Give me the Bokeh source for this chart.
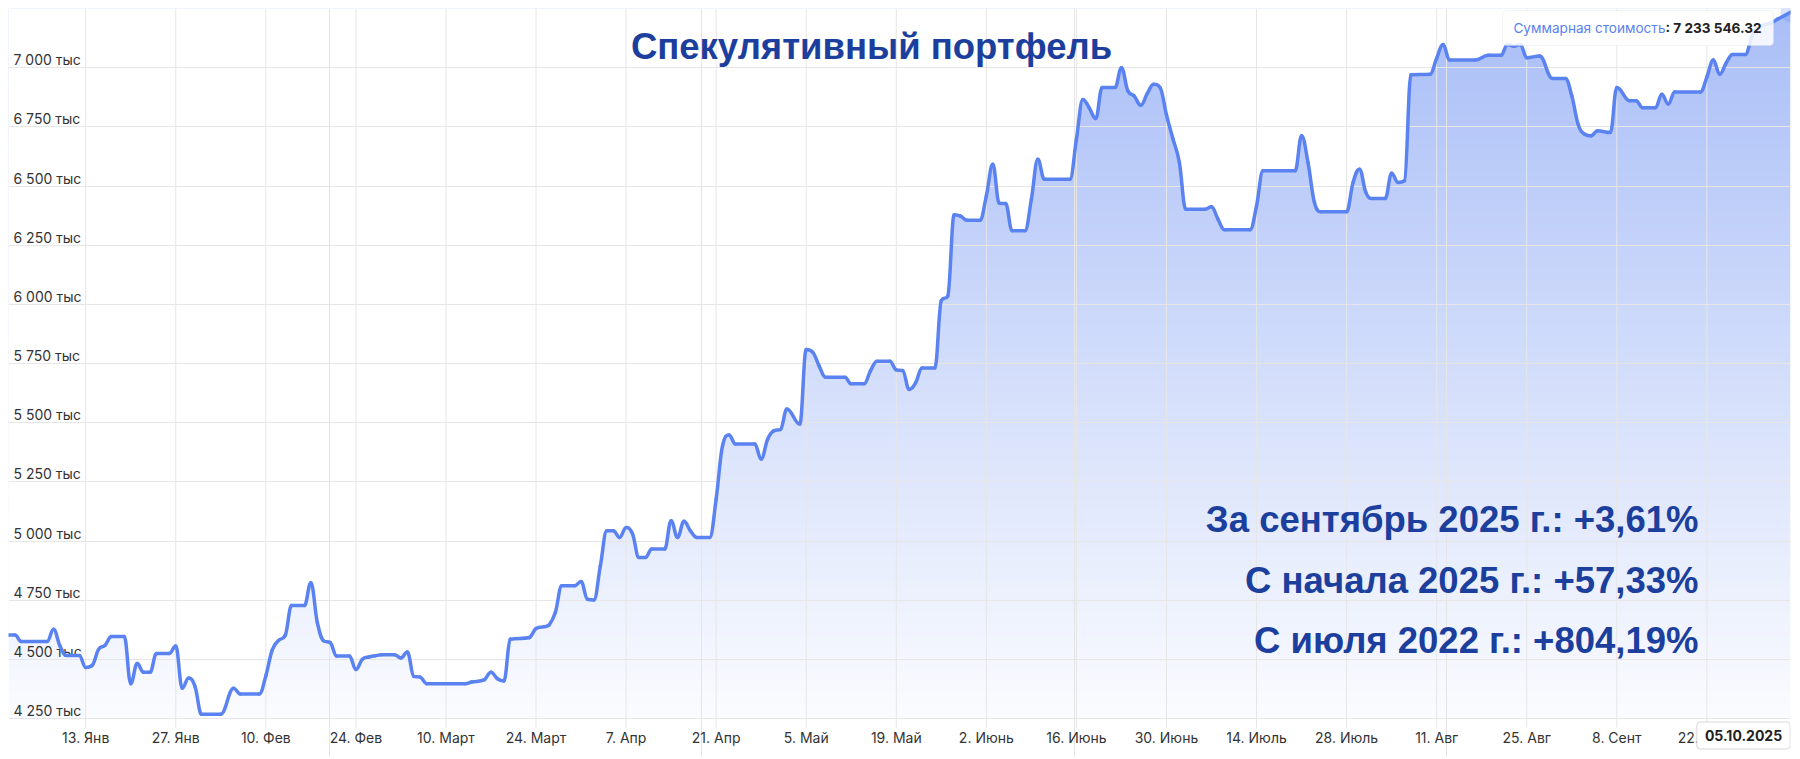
import numpy as np
import pandas as pd
from bokeh.plotting import figure
from bokeh.models import Range1d, FixedTicker, Grid, Label, BoxAnnotation
from bokeh.core.properties import value
from bokeh.embed import file_html
from bokeh.resources import INLINE

# ---------------- data ----------------
YEAR = 2025
dates = [
    "01-01", "01-02", "01-03", "01-07", "01-08", "01-09", "01-10", "01-12", "01-13", "01-14",
    "01-15", "01-16", "01-17", "01-19", "01-20", "01-21", "01-22", "01-23", "01-24", "01-26",
    "01-27", "01-28", "01-29", "01-30", "01-31", "02-03", "02-05", "02-06", "02-09", "02-10",
    "02-11", "02-12", "02-13", "02-14", "02-16", "02-17", "02-18", "02-19", "02-20", "02-21",
    "02-23", "02-24", "02-25", "02-26", "02-27", "02-28", "03-02", "03-03", "03-04", "03-05",
    "03-06", "03-07", "03-13", "03-14", "03-16", "03-17", "03-18", "03-19", "03-20", "03-23",
    "03-24", "03-26", "03-27", "03-28", "03-30", "03-31", "04-01", "04-02", "04-03", "04-04",
    "04-05", "04-06", "04-07", "04-08", "04-09", "04-10", "04-11", "04-13", "04-14", "04-15",
    "04-16", "04-17", "04-18", "04-20", "04-21", "04-22", "04-23", "04-24", "04-27", "04-28",
    "04-29", "04-30", "05-01", "05-02", "05-04", "05-05", "05-06", "05-07", "05-08", "05-11",
    "05-12", "05-14", "05-15", "05-16", "05-18", "05-19", "05-20", "05-21", "05-22", "05-23",
    "05-25", "05-26", "05-27", "05-28", "05-29", "05-30", "06-01", "06-02", "06-03", "06-04",
    "06-05", "06-06", "06-08", "06-09", "06-10", "06-11", "06-15", "06-16", "06-17", "06-18",
    "06-19", "06-20", "06-22", "06-23", "06-24", "06-25", "06-26", "06-27", "06-28", "06-29",
    "06-30", "07-01", "07-02", "07-03", "07-06", "07-07", "07-08", "07-09", "07-13", "07-14",
    "07-15", "07-20", "07-21", "07-22", "07-23", "07-24", "07-28", "07-29", "07-30", "07-31",
    "08-01", "08-03", "08-04", "08-05", "08-06", "08-07", "08-10", "08-11", "08-12", "08-13",
    "08-17", "08-19", "08-21", "08-22", "08-23", "08-24", "08-25", "08-27", "08-29", "08-31",
    "09-01", "09-02", "09-03", "09-04", "09-05", "09-07", "09-08", "09-10", "09-11", "09-12",
    "09-14", "09-15", "09-16", "09-17", "09-21", "09-22", "09-23", "09-24", "09-25", "09-26",
    "09-28", "09-29", "09-30", "10-02", "10-03", "10-05",
]
portfolio_k = [
    4603, 4603, 4575, 4575, 4627, 4556, 4516, 4516, 4466, 4474,
    4542, 4559, 4596, 4596, 4397, 4482, 4445, 4445, 4525, 4525,
    4556, 4378, 4421, 4385, 4268, 4268, 4378, 4354, 4354, 4430,
    4540, 4580, 4600, 4727, 4727, 4824, 4656, 4578, 4571, 4514,
    4514, 4457, 4500, 4510, 4515, 4519, 4519, 4506, 4531, 4428,
    4425, 4397, 4397, 4404, 4414, 4445, 4418, 4408, 4585, 4592,
    4630, 4644, 4698, 4811, 4811, 4829, 4754, 4751, 4895, 5043,
    5043, 5015, 5057, 5030, 4930, 4930, 4966, 4966, 5086, 5015,
    5083, 5043, 5015, 5015, 5177, 5403, 5448, 5410, 5410, 5346,
    5430, 5466, 5471, 5558, 5494, 5809, 5798, 5740, 5692, 5692,
    5664, 5664, 5720, 5760, 5760, 5723, 5720, 5640, 5668, 5731,
    5731, 6016, 6035, 6379, 6373, 6355, 6355, 6458, 6592, 6427,
    6426, 6311, 6311, 6444, 6613, 6529, 6529, 6697, 6866, 6830,
    6785, 6916, 6916, 7000, 6902, 6880, 6841, 6890, 6930, 6916,
    6800, 6700, 6600, 6402, 6402, 6412, 6360, 6315, 6315, 6416,
    6564, 6564, 6712, 6599, 6430, 6391, 6391, 6515, 6571, 6472,
    6447, 6447, 6554, 6515, 6522, 6970, 6972, 7040, 7098, 7032,
    7032, 7052, 7052, 7098, 7091, 7098, 7042, 7049, 6954, 6954,
    6881, 6760, 6719, 6712, 6733, 6726, 6916, 6860, 6860, 6831,
    6831, 6888, 6846, 6897, 6897, 6960, 7032, 6972, 7020, 7056,
    7056, 7133, 7170, 7190, 7205, 7233.54632,
]

y_ticks = [4250, 4500, 4750, 5000, 5250, 5500, 5750, 6000, 6250, 6500, 6750, 7000]
y_tick_labels = ["4 250 тыс", "4 500 тыс", "4 750 тыс", "5 000 тыс", "5 250 тыс", "5 500 тыс",
                 "5 750 тыс", "6 000 тыс", "6 250 тыс", "6 500 тыс", "6 750 тыс", "7 000 тыс"]
y_grid = y_ticks + [7250]
x_tick_dates = ["2025-01-13", "2025-01-27", "2025-02-10", "2025-02-24", "2025-03-10",
                "2025-03-24", "2025-04-07", "2025-04-21", "2025-05-05", "2025-05-19",
                "2025-06-02", "2025-06-16", "2025-06-30", "2025-07-14", "2025-07-28",
                "2025-08-11", "2025-08-25", "2025-09-08", "2025-09-22"]
x_tick_labels = ["13. Янв", "27. Янв", "10. Фев", "24. Фев", "10. Март", "24. Март",
                 "7. Апр", "21. Апр", "5. Май", "19. Май", "2. Июнь", "16. Июнь",
                 "30. Июнь", "14. Июль", "28. Июль", "11. Авг", "25. Авг", "8. Сент", "22. Сент"]

title_text = "Спекулятивный портфель"
stats_lines = ["За сентябрь 2025 г.: +3,61%", "С начала 2025 г.: +57,33%", "С июля 2022 г.: +804,19%"]
tooltip_name = "Суммарная стоимость"
tooltip_value = ": 7 233 546.32"
last_date_label = "05.10.2025"

# ---------------- layout constants (page pixels) ----------------
W, H = 1796, 757
F_LEFT, F_TOP = 8, 8           # frame top-left on the page
F_W = 1782                     # frame width
PX_PER_3000 = 710              # vertical pixels for 7250 -> 4250
Y_TOP = 7250
Y_GRAD0 = 4250
X0 = pd.Timestamp("2025-01-01")
X1 = pd.Timestamp("2025-10-05")
x0_ms = X0.value / 1e6
x1_ms = X1.value / 1e6
Y_BOTTOM = Y_TOP - (H - F_TOP) / PX_PER_3000 * 3000

LINE_COLOR = "#5a82f0"
TEXT_BLUE = "#1c3f9e"
GRID = "#e6e6e6"
LABEL = "#333333"


def xd(px):
    return x0_ms + (px - F_LEFT) / F_W * (x1_ms - x0_ms)


def yd(py):
    return Y_TOP - (py - F_TOP) / PX_PER_3000 * 3000


def spline_controls(xs, ys, smoothing=1.5):
    """Control points of a Highcharts-like 'spline' through the given points."""
    n = len(xs)
    lcx, lcy = xs.copy(), ys.copy()
    rcx, rcy = xs.copy(), ys.copy()
    denom = smoothing + 1
    for i in range(1, n - 1):
        px, py = xs[i], ys[i]
        lx = (smoothing * px + xs[i - 1]) / denom
        ly = (smoothing * py + ys[i - 1]) / denom
        rx = (smoothing * px + xs[i + 1]) / denom
        ry = (smoothing * py + ys[i + 1]) / denom
        if rx != lx:
            corr = (ry - ly) * (rx - px) / (rx - lx) + py - ry
            ly += corr
            ry += corr
            last_y, next_y = ys[i - 1], ys[i + 1]
            if ly > last_y and ly > py:
                ly = max(last_y, py)
                ry = 2 * py - ly
            elif ly < last_y and ly < py:
                ly = min(last_y, py)
                ry = 2 * py - ly
            if ry > next_y and ry > py:
                ry = max(next_y, py)
                ly = 2 * py - ry
            elif ry < next_y and ry < py:
                ry = min(next_y, py)
                ly = 2 * py - ry
        lcx[i], lcy[i], rcx[i], rcy[i] = lx, ly, rx, ry
    return lcx, lcy, rcx, rcy


x = pd.to_datetime([f"{YEAR}-{d}" for d in dates])
x_ms = np.array([t.value / 1e6 for t in x])
y = np.array(portfolio_k, dtype=float)
xt = [pd.Timestamp(d).value / 1e6 for d in x_tick_dates]

p = figure(width=W, height=H, x_axis_location=None,
           y_axis_location=None, output_backend="svg", toolbar_location=None,
           x_range=Range1d(x0_ms, x1_ms), y_range=Range1d(Y_BOTTOM, Y_TOP),
           min_border_left=F_LEFT, min_border_right=W - F_LEFT - F_W,
           min_border_top=F_TOP, min_border_bottom=0)
p.outline_line_color = None
p.background_fill_color = "white"
p.border_fill_color = "white"

# gradient fill under the curve: vertical gradient image, masked above the line
n = 400
alpha = np.linspace(0.03, 0.52, n)
img = np.zeros((n, 2), dtype=np.uint32)
view = img.view(dtype=np.uint8).reshape((n, 2, 4))
view[:, :, 0] = 90
view[:, :, 1] = 130
view[:, :, 2] = 240
view[:, :, 3] = (alpha * 255).astype(np.uint8)[:, None]
p.image_rgba(image=[img], x=x0_ms, y=Y_GRAD0, dw=x1_ms - x0_ms, dh=Y_TOP - Y_GRAD0, level="image")
p.varea(x=x_ms, y1=y, y2=Y_TOP, fill_color="white", level="image")

# horizontal grid
p.add_layout(Grid(dimension=1, ticker=FixedTicker(ticks=y_grid), grid_line_color=GRID,
                  grid_line_width=1))
# vertical grid lines that run a little below the plot (tick marks)
p.segment(x0=xt, y0=[yd(727)] * len(xt), x1=xt, y1=[Y_TOP] * len(xt),
          line_color=GRID, line_width=1, level="underlay")

# x tick labels
p.text(x=xt, y=[yd(737)] * len(xt), text=x_tick_labels, text_font=value("Inter"),
       text_font_size="14px", text_color=LABEL, text_align="center", text_baseline="middle")

# y tick labels inside the plot, above gridlines
p.text(x=[x0_ms] * len(y_ticks), y=y_ticks, text=y_tick_labels, x_offset=5, y_offset=-8,
       text_font=value("Inter"), text_font_size="14px", text_color=LABEL,
       text_align="left", text_baseline="middle")

# series line (smoothed spline through the points)
lcx, lcy, rcx, rcy = spline_controls(x_ms, y)
p.bezier(x0=x_ms[:-1], y0=y[:-1], x1=x_ms[1:], y1=y[1:],
         cx0=rcx[:-1], cy0=rcy[:-1], cx1=lcx[1:], cy1=lcy[1:],
         line_color=LINE_COLOR, line_width=3.5, line_cap="round")
p.scatter(x=[x_ms[-1]], y=[y[-1]], size=20, fill_color=LINE_COLOR, fill_alpha=0.22, line_color=None)

# title
p.add_layout(Label(x=xd(871), y=yd(45.5), text=title_text, text_align="center",
                   text_baseline="middle", text_font="Liberation Sans",
                   text_font_style="bold", text_font_size="36.5px", text_color=TEXT_BLUE))

# stats lines
for txt, mid in zip(stats_lines, [519, 580, 640]):
    p.add_layout(Label(x=xd(1698), y=yd(mid), text=txt, text_align="right",
                       text_baseline="middle", text_font="Liberation Sans",
                       text_font_style="bold", text_font_size="36.5px", text_color=TEXT_BLUE))

# tooltip box
p.add_layout(BoxAnnotation(left=xd(1502), right=xd(1773), top=yd(10), bottom=yd(45),
                           fill_color="white", fill_alpha=0.85, line_color="#dcdcdc",
                           line_width=1, border_radius=4))
p.add_layout(Label(x=xd(1665), y=yd(27.5), text=tooltip_name, text_align="right",
                   text_baseline="middle", text_font="Inter", text_font_size="13.6px",
                   text_color=LINE_COLOR))
p.add_layout(Label(x=xd(1665), y=yd(27.5), text=tooltip_value, text_align="left",
                   text_baseline="middle", text_font="Inter", text_font_style="bold",
                   text_font_size="13.6px", text_color="#222222"))

# last date box on the x axis
p.add_layout(Label(x=xd(1743), y=yd(735), text=last_date_label, text_align="center",
                   text_baseline="middle", text_font="Inter", text_font_style="bold",
                   text_font_size="14px", text_color="#222222",
                   background_fill_color="white", border_line_color="#d6d6d6",
                   border_line_width=1, padding=8, border_radius=3))

open("out.html", "w").write(file_html(p, INLINE))
